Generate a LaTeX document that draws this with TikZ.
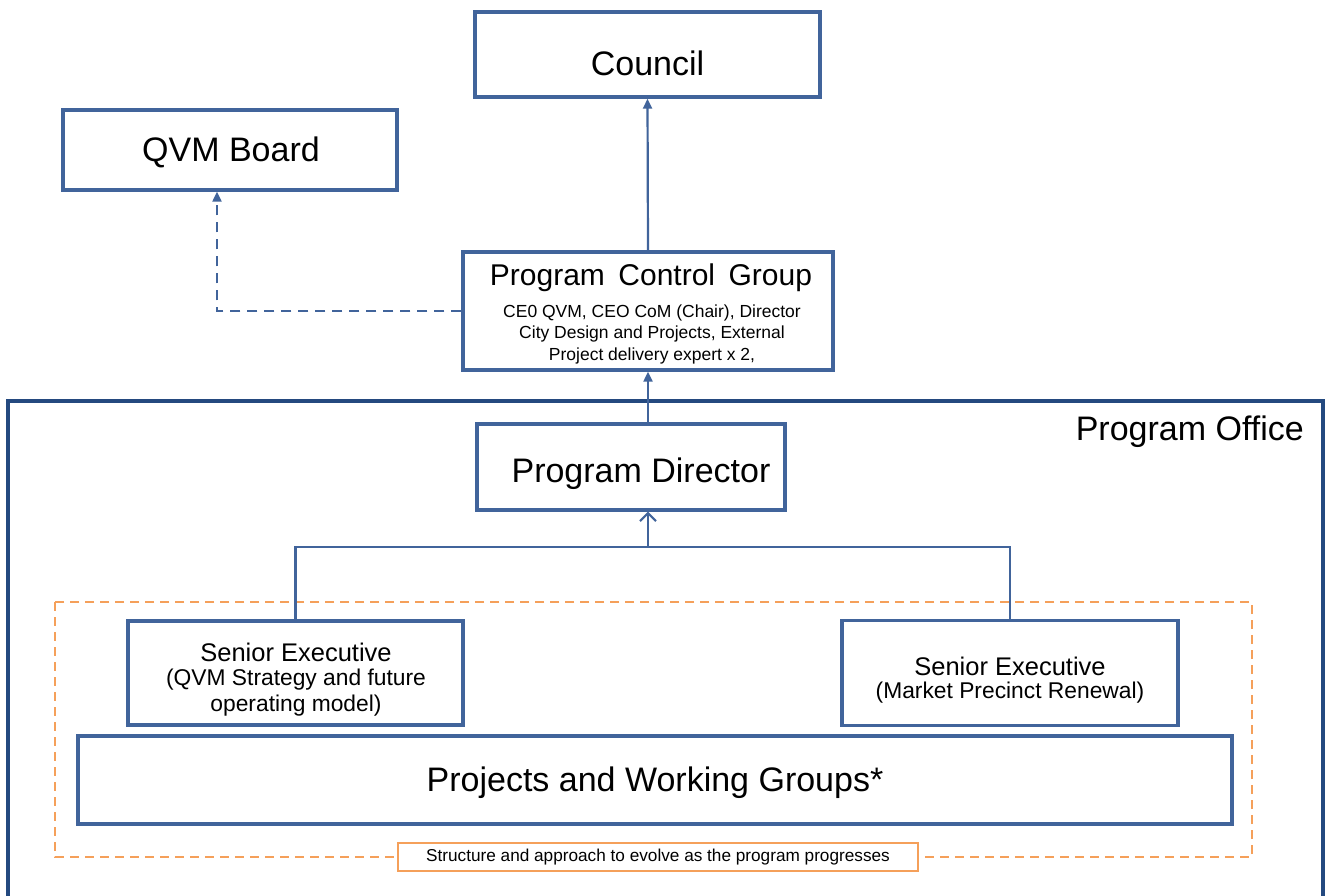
\documentclass[tikz,border=0pt]{standalone}
\usepackage{fontspec}
\setmainfont{Liberation Sans}
\usetikzlibrary{arrows.meta}
\definecolor{boxblue}{HTML}{41649B}
\definecolor{officeblue}{HTML}{24497F}
\definecolor{dashorange}{HTML}{F5A05A}
\newcommand{\fs}[1]{\fontsize{#1}{#1}\selectfont}
\begin{document}
\begin{tikzpicture}[x=1pt,y=-1pt,
  box/.style={draw=boxblue, line width=3.4pt, fill=white, inner sep=0pt, anchor=center},
  link/.style={draw=boxblue, line width=2.2pt},
  solidtip/.style={-{Triangle[length=10pt,width=9pt]}},
  opentip/.style={-{Straight Barb[length=8pt,width=16pt,line width=2pt]}},
  label/.style={inner sep=0pt, anchor=center, text=black}]
\useasboundingbox (0,0) rectangle (1331,896);
\clip (0,0) rectangle (1331,896);
\fill[white] (0,0) rectangle (1331,896);

% Program Office frame (runs past the lower edge)
\draw[officeblue, line width=3.8pt] (8,930) -- (8,401) -- (1323,401) -- (1323,930);
\node[label, anchor=east] (office) at (1304,432) {\fs{34}Program Office};

% Top boxes
\node[box, minimum width=345pt, minimum height=85pt] (council) at (647.5,54.5) {};
\node[label] (councilt) at (647.5,63) {\fs{34}Council};

\node[box, minimum width=334pt, minimum height=80pt] (qvm) at (230,150) {};
\node[label] (qvmt) at (231,152) {\fs{34}QVM Board};

\node[box, minimum width=370pt, minimum height=118pt] (pcg) at (648,311) {};
\node[label] (pcgt) at (651,278) {\fs{30}Program\hspace{0.45em}Control\hspace{0.45em}Group};
\node[label, align=center, font=\fontsize{17.5}{21.5}\selectfont] (pcgs) at (652,334)
  {CE0 QVM, CEO CoM (Chair), Director\\City Design and Projects, External\\Project delivery expert x 2,};

\node[box, minimum width=308pt, minimum height=86pt] (pd) at (631,467) {};
\node[label] (pdt) at (641,474) {\fs{34}Program Director};

% Orange dashed grouping
\draw[dashorange, line width=2.6pt, dash pattern=on 9pt off 6pt] (55,602) rectangle (1252,857);

\node[box, minimum width=335pt, minimum height=104pt] (sl) at (295.5,673) {};
\node[label] (sla) at (296,652) {\fs{25.5}Senior Executive};
\node[label] (slb) at (296,680) {\fs{22.8}(QVM Strategy and future};
\node[label] (slc) at (296,706) {\fs{22.8}operating model)};

\node[box, minimum width=336pt, minimum height=105pt] (sr) at (1010,673) {};
\node[label] (sra) at (1010,666) {\fs{25.5}Senior Executive};
\node[label] (srb) at (1010,693) {\fs{22.8}(Market Precinct Renewal)};

\node[box, minimum width=1154pt, minimum height=88pt] (proj) at (655,780) {};
\node[label] (projt) at (655,783) {\fs{34}Projects and Working Groups*};

\node[draw=dashorange, line width=2.6pt, fill=white, minimum width=520pt, minimum height=28pt, inner sep=0pt]
  (note) at (658,857) {\fs{17.2}Structure and approach to evolve as the program progresses};

% Connectors
\draw[link, solidtip] (pcg.north) -- (council.south);
\draw[link, solidtip] (pd.north -| pcg.south) -- (pcg.south);
\draw[link, dashed, dash pattern=on 10pt off 7pt, solidtip]
  (pcg.west) -| ([xshift=-13pt]qvm.south);
\coordinate (bus) at (648,547);
\draw[link] (sl.north) |- (bus) -| (sr.north);
\draw[link, opentip] (bus) -- (bus |- pd.south);
\end{tikzpicture}
\end{document}
